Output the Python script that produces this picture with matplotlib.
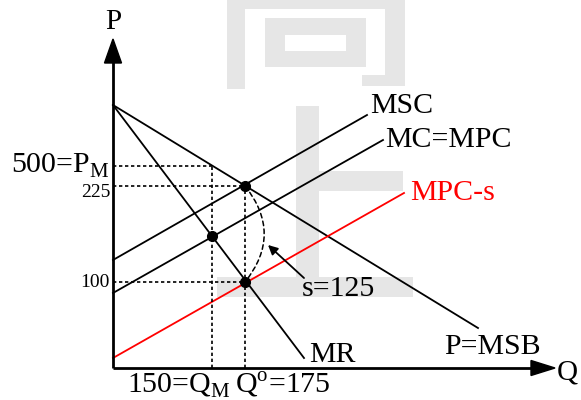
import matplotlib
matplotlib.use("Agg")
import matplotlib.pyplot as plt
from matplotlib.patches import Rectangle, FancyArrowPatch, Polygon

plt.rcParams['font.family'] = ['Liberation Serif', 'DejaVu Serif']
plt.rcParams['mathtext.fontset'] = 'custom'
plt.rcParams['mathtext.rm'] = 'Liberation Serif'

# curves (Q, P) in diagram units
demand_q = [0, 365]
demand_p = [263, 40]
mr_q = [0, 191]
mr_p = [263, 10]
msc_q = [0, 254]
msc_p = [108, 253]
mc_q = [0, 270]
mc_p = [75, 228]
mpcs_q = [0, 291]
mpcs_p = [10, 175]

# equilibrium points: social optimum, monopoly, subsidised
eq_q = [132, 99, 132]
eq_p = [182, 132, 86]
pm_price = 202   # monopoly price on demand curve

curve_labels = ['MSC', 'MC=MPC', 'MPC-s', 'P=MSB', 'MR']

fig = plt.figure(figsize=(5.81, 4), dpi=100)
ax = fig.add_axes([0, 0, 1, 1])
ax.set_xlim(-113, 468)
ax.set_ylim(-32, 368)
ax.axis('off')

# light grey watermark (pixel boxes: x0, y0, x1, y1)
wm = [(227, 0, 405, 9), (227, 0, 245, 89), (385, 0, 405, 86), (362, 75, 405, 86),
      (265, 18, 366, 35), (265, 18, 285, 67), (346, 18, 366, 67), (265, 51, 366, 67),
      (296, 106, 319, 297), (319, 171, 403, 191), (217, 277, 413, 297)]
for x0, y0, x1, y1 in wm:
    ax.add_patch(Rectangle((x0 - 113, 368 - y1), x1 - x0, y1 - y0,
                           color='#e6e6e6', lw=0, zorder=0))

# axes with arrow heads
ax.plot([0, 0], [0, 310], color='black', lw=2.0, solid_capstyle='butt', zorder=3)
ax.plot([0, 425], [0, 0], color='black', lw=2.0, solid_capstyle='butt', zorder=3)
ax.add_patch(Polygon([[-8.5, 305], [8.5, 305], [0, 329]], color='black', zorder=3))
ax.add_patch(Polygon([[418, 7.5], [418, -7.5], [442, 0]], color='black', zorder=3))
ax.text(0, 339, 'P', fontsize=21, ha='center', va='baseline')
ax.text(444, -12, 'Q', fontsize=21, ha='left', va='baseline')

# curves
lw = 1.3
ax.plot(demand_q, demand_p, color='black', lw=lw)
ax.plot(mr_q, mr_p, color='black', lw=lw)
ax.plot(msc_q, msc_p, color='black', lw=lw)
ax.plot(mc_q, mc_p, color='black', lw=lw)
ax.plot(mpcs_q, mpcs_p, color='red', lw=lw)

# dotted guide lines
dot = (0, (2.0, 1.6))
ax.plot([0, eq_q[1]], [pm_price, pm_price], color='black', lw=1.2, ls=dot)
ax.plot([eq_q[1], eq_q[1]], [0, pm_price], color='black', lw=1.2, ls=dot)
ax.plot([0, eq_q[0]], [eq_p[0], eq_p[0]], color='black', lw=1.2, ls=dot)
ax.plot([0, eq_q[2]], [eq_p[2], eq_p[2]], color='black', lw=1.2, ls=dot)
ax.plot([eq_q[0], eq_q[0]], [0, eq_p[0]], color='black', lw=1.2, ls=dot)

ax.plot(eq_q, eq_p, 'o', color='black', markersize=7, zorder=5)

# subsidy bracket and arrow
ax.add_patch(FancyArrowPatch((eq_q[0], eq_p[0]), (eq_q[2], eq_p[2]),
                             connectionstyle='arc3,rad=-0.4', arrowstyle='-',
                             ls=(0, (3, 2.2)), lw=1.1, color='black',
                             shrinkA=0, shrinkB=0))
ax.annotate('', xy=(155, 123), xytext=(191, 90),
            arrowprops=dict(arrowstyle='-|>', color='black', lw=1.3,
                            mutation_scale=14, shrinkA=0, shrinkB=0))
ax.text(189, 79, 's=125', fontsize=21.5, ha='left', va='center')

# curve labels
fs = 21.5
ax.text(257, 262, curve_labels[0], fontsize=fs, ha='left', va='center')
ax.text(272, 228, curve_labels[1], fontsize=fs, ha='left', va='center')
ax.text(297, 175, curve_labels[2], fontsize=fs, ha='left', va='center', color='red')
ax.text(331, 21, curve_labels[3], fontsize=fs, ha='left', va='center')
ax.text(196, 13, curve_labels[4], fontsize=fs, ha='left', va='center')

# axis value labels
ax.text(-3, 195, r'500=P$_\mathregular{M}$', fontsize=fs, ha='right', va='baseline')
ax.text(-3, 171, '225', fontsize=14, ha='right', va='baseline')
ax.text(-3, 81, '100', fontsize=14, ha='right', va='baseline')
ax.text(14, -25, r'150=Q$_\mathregular{M}$', fontsize=fs, ha='left', va='baseline')
ax.text(122, -25, r'Q$^\mathregular{o}$=175', fontsize=fs, ha='left', va='baseline')

fig.savefig('out.png', dpi=100)
